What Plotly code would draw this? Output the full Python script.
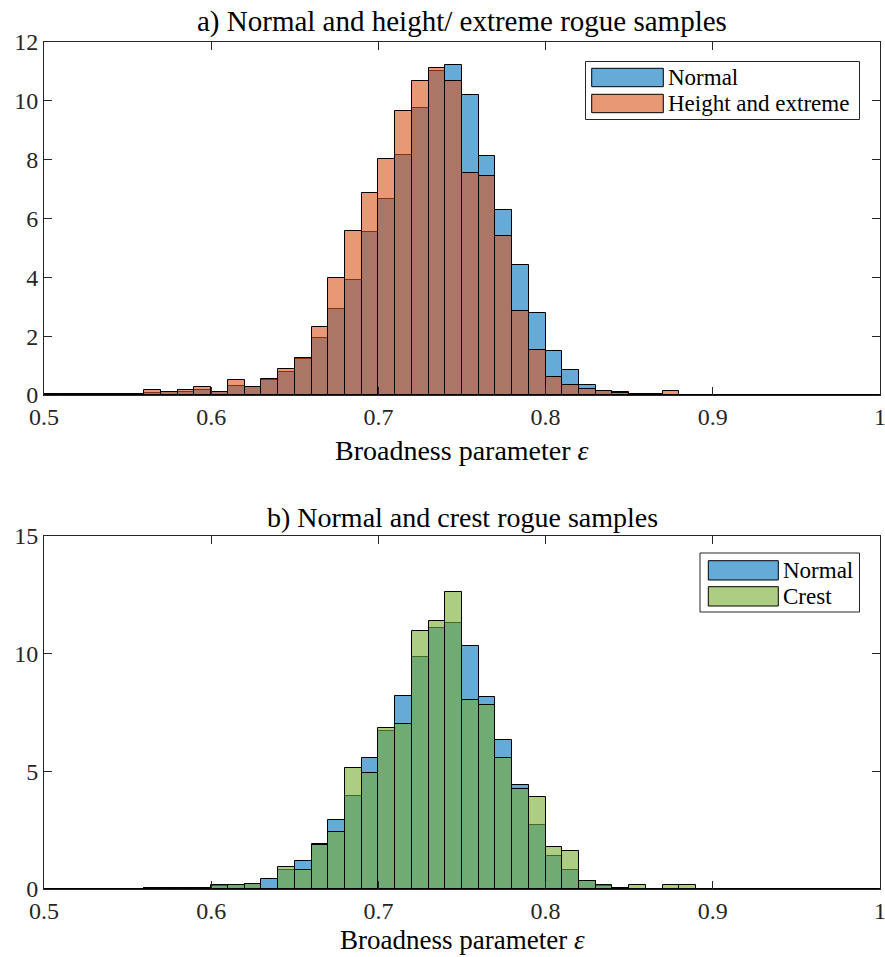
import plotly.graph_objects as go

# ---------------- data ----------------
bin_left_edges = [0.50, 0.51, 0.52, 0.53, 0.54, 0.55, 0.56, 0.57, 0.58, 0.59,
                  0.60, 0.61, 0.62, 0.63, 0.64, 0.65, 0.66, 0.67, 0.68, 0.69,
                  0.70, 0.71, 0.72, 0.73, 0.74, 0.75, 0.76, 0.77, 0.78, 0.79,
                  0.80, 0.81, 0.82, 0.83, 0.84, 0.85, 0.86, 0.87, 0.88, 0.89,
                  0.90, 0.91, 0.92, 0.93, 0.94, 0.95, 0.96, 0.97, 0.98, 0.99]
bin_width = 0.01

normal_a = [0.02, 0.00, 0.04, 0.00, 0.04, 0.00, 0.06, 0.10, 0.10, 0.18,
            0.11, 0.30, 0.26, 0.52, 0.78, 1.24, 1.93, 2.92, 3.91, 5.54,
            6.67, 8.15, 9.75, 11.03, 11.22, 10.20, 8.14, 6.28, 4.41, 2.80,
            1.48, 0.86, 0.34, 0.15, 0.09, 0.03, 0.03, 0.00, 0.00, 0.00,
            0.00, 0.00, 0.00, 0.00, 0.00, 0.00, 0.00, 0.00, 0.00, 0.00]
height_extreme = [0.00, 0.05, 0.05, 0.03, 0.04, 0.03, 0.17, 0.10, 0.17, 0.26,
                  0.11, 0.51, 0.26, 0.54, 0.89, 1.27, 2.30, 3.99, 5.57, 6.87,
                  8.02, 9.67, 10.66, 11.11, 10.69, 7.55, 7.43, 5.42, 2.84, 1.54,
                  0.60, 0.34, 0.20, 0.15, 0.07, 0.02, 0.02, 0.15, 0.00, 0.00,
                  0.00, 0.00, 0.00, 0.00, 0.00, 0.00, 0.00, 0.00, 0.00, 0.00]

normal_b = [0.00, 0.00, 0.00, 0.00, 0.00, 0.00, 0.04, 0.04, 0.04, 0.04,
            0.12, 0.15, 0.20, 0.42, 0.82, 1.17, 1.90, 2.93, 3.95, 5.55,
            6.73, 8.21, 9.87, 11.08, 11.29, 10.33, 8.17, 6.33, 4.42, 2.72,
            1.40, 0.81, 0.34, 0.12, 0.04, 0.00, 0.00, 0.00, 0.00, 0.00,
            0.00, 0.00, 0.00, 0.00, 0.00, 0.00, 0.00, 0.00, 0.00, 0.00]
crest = [0.00, 0.00, 0.00, 0.00, 0.00, 0.00, 0.04, 0.04, 0.04, 0.04,
         0.17, 0.17, 0.20, 0.00, 0.95, 0.81, 1.85, 2.44, 5.13, 4.91,
         6.83, 7.01, 10.96, 11.40, 12.64, 8.03, 7.82, 5.55, 4.23, 3.92,
         1.80, 1.61, 0.34, 0.17, 0.04, 0.17, 0.00, 0.17, 0.17, 0.00,
         0.00, 0.00, 0.00, 0.00, 0.00, 0.00, 0.00, 0.00, 0.00, 0.00]

x_tick_vals = [0.5, 0.6, 0.7, 0.8, 0.9, 1.0]
x_tick_text = ["0.5", "0.6", "0.7", "0.8", "0.9", "1"]
y_ticks_a = [0, 2, 4, 6, 8, 10, 12]
y_ticks_b = [0, 5, 10, 15]

title_a = "a) Normal and height/ extreme rogue samples"
title_b = "b) Normal and crest rogue samples"
x_label = "Broadness parameter <i>ε</i>"
name_normal = "Normal"
name_height = "Height and extreme"
name_crest = "Crest"

# ---------------- styles ----------------
W, H = 885, 957
ML, MR, MT, MB = 44, 5, 42, 68
PW, PH = W - ML - MR, H - MT - MB
FONT = "Liberation Serif, Times New Roman, serif"
AX_COL = "rgb(38,38,38)"
BLUE = "rgba(0,114,189,0.6)"
ORANGE = "rgba(217,83,25,0.6)"
GREEN = "rgba(119,172,48,0.6)"


def px_x(px):
    """page pixel x -> paper x"""
    return (px - ML) / PW


def px_y(py):
    """page pixel y -> paper y"""
    return (H - MB - py) / PH


centers = [e + bin_width / 2 for e in bin_left_edges]

fig = go.Figure()


def add_bar(vals, color, name, xa, ya):
    fig.add_trace(go.Bar(
        x=centers, y=vals, width=bin_width, name=name,
        marker=dict(color=color, line=dict(color="black", width=1)),
        xaxis=xa, yaxis=ya, showlegend=False))


add_bar(normal_a, BLUE, name_normal, "x", "y")
add_bar(height_extreme, ORANGE, name_height, "x", "y")
add_bar(normal_b, BLUE, name_normal, "x2", "y2")
add_bar(crest, GREEN, name_crest, "x2", "y2")

top_dom = [px_y(395), 1.0]
bot_dom = [0.0, px_y(536)]

xcommon = dict(range=[0.5, 1.0], tickvals=x_tick_vals, ticktext=x_tick_text,
               ticks="inside", ticklen=8, tickcolor=AX_COL, showline=True,
               linecolor=AX_COL, linewidth=1, mirror="ticks", showgrid=False,
               zeroline=False, automargin=False, ticklabeloverflow="allow",
               tickfont=dict(family=FONT, size=24, color=AX_COL))
ycommon = dict(ticks="inside", ticklen=8, tickcolor=AX_COL, showline=True,
               linecolor=AX_COL, linewidth=1, mirror="ticks", showgrid=False,
               zeroline=False, automargin=False, ticklabeloverflow="allow",
               tickfont=dict(family=FONT, size=24, color=AX_COL))

fig.update_layout(
    template="none",
    width=W, height=H,
    margin=dict(l=ML, r=MR, t=MT, b=MB, autoexpand=False),
    paper_bgcolor="white", plot_bgcolor="white",
    showlegend=False,
    barmode="overlay", bargap=0,
    xaxis=dict(domain=[0, 1], anchor="y", **xcommon),
    yaxis=dict(domain=top_dom, anchor="x", range=[0, 12], tickvals=y_ticks_a, **ycommon),
    xaxis2=dict(domain=[0, 1], anchor="y2", **xcommon),
    yaxis2=dict(domain=bot_dom, anchor="x2", range=[0, 15], tickvals=y_ticks_b, **ycommon),
)

annotations = []
# titles and axis labels
for text, py, size, anchor in [(title_a, 21, 29, "middle"), (x_label, 450, 28, "middle"),
                               (title_b, 517, 28, "middle"), (x_label, 957, 27, "bottom")]:
    annotations.append(dict(text=text, x=0.5, y=px_y(py), xref="paper", yref="paper",
                            xanchor="center", yanchor=anchor, showarrow=False,
                            font=dict(family=FONT, size=size, color="black")))

shapes = []


def legend(box, entries):
    x0, y0, x1, y1 = box
    shapes.append(dict(type="rect", xref="paper", yref="paper",
                       x0=px_x(x0), x1=px_x(x1), y0=px_y(y0), y1=px_y(y1),
                       line=dict(color=AX_COL, width=1), fillcolor="white", layer="above"))
    for (px0, px1, py0, py1, col, name, tx) in entries:
        shapes.append(dict(type="rect", xref="paper", yref="paper",
                           x0=px_x(px0), x1=px_x(px1), y0=px_y(py0), y1=px_y(py1),
                           line=dict(color="black", width=1), fillcolor=col, layer="above"))
        annotations.append(dict(text=name, x=px_x(tx), y=px_y((py0 + py1) / 2),
                                xref="paper", yref="paper", xanchor="left",
                                yanchor="middle", showarrow=False,
                                font=dict(family=FONT, size=23, color="black")))


legend((585.5, 61.5, 859.5, 119.5), [
    (591.7, 663.3, 68.3, 86.7, BLUE, name_normal, 666),
    (591.7, 663.3, 94.3, 112.7, ORANGE, name_height, 666),
])
legend((700, 553, 859.5, 612), [
    (708.3, 778.3, 560.7, 580, BLUE, name_normal, 781),
    (708.3, 778.3, 586.7, 606, GREEN, name_crest, 781),
])

fig.update_layout(annotations=annotations, shapes=shapes)

# remove the browser's default 8px page margin so the figure fills the window exactly
fig.write_html("out.html",
               config={"displayModeBar": False},
               post_script="document.body.style.margin='0';document.body.style.overflow='hidden';")
